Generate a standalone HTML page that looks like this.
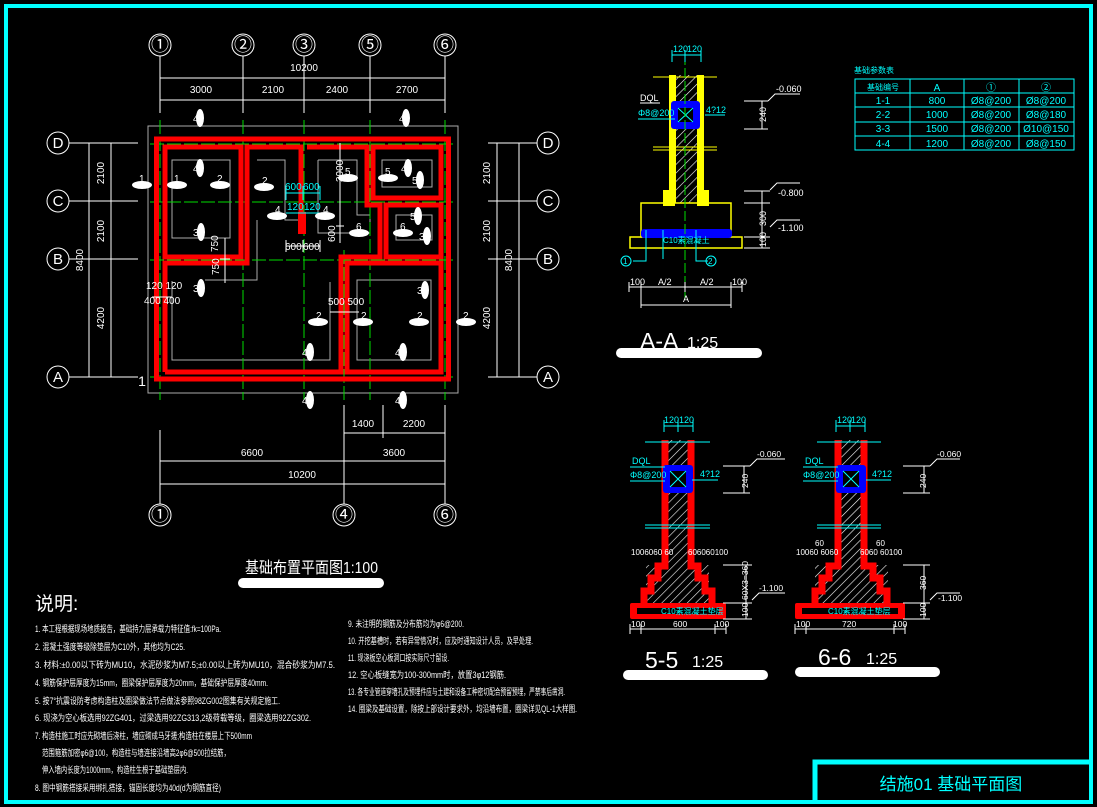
<!DOCTYPE html>
<html><head><meta charset="utf-8"><style>
html,body{margin:0;padding:0;background:#000;}
svg{display:block;font-family:"Liberation Sans","Noto Sans CJK SC",sans-serif;}
</style></head><body>
<svg width="1097" height="807" viewBox="0 0 1097 807" xmlns="http://www.w3.org/2000/svg">
<defs>
<pattern id="h" width="6" height="6" patternUnits="userSpaceOnUse" patternTransform="rotate(45)">
<rect width="6" height="6" fill="#000"/><line x1="0" y1="0" x2="0" y2="6" stroke="#fff" stroke-width="1.2"/>
</pattern>
<g id="mk"><ellipse cx="0" cy="0" rx="10" ry="4" fill="#fff"/></g>
<g id="mv"><ellipse cx="0" cy="0" rx="4" ry="9" fill="#fff"/></g>
</defs>
<rect width="1097" height="807" fill="#000"/>
<rect x="6" y="6" width="1085" height="796" fill="none" stroke="#00ffff" stroke-width="4"/>

<!-- ===== PLAN ===== -->
<g stroke="#fff" stroke-width="1" fill="none">
<circle cx="160" cy="45" r="11"/><circle cx="243" cy="45" r="11"/><circle cx="304" cy="45" r="11"/><circle cx="370" cy="45" r="11"/><circle cx="445" cy="45" r="11"/>
<path d="M160 56V113M243 56V113M304 56V113M370 56V113M445 56V113"/>
<path d="M160 78H445M160 100H445"/>
<circle cx="160" cy="515" r="11"/><circle cx="344" cy="515" r="11"/><circle cx="445" cy="515" r="11"/>
<path d="M160 430V504M344 405V504M445 405V504M383 405V438"/>
<path d="M344 433H445M160 461H445M160 484H445"/>
<circle cx="58" cy="143" r="11"/><circle cx="58" cy="201" r="11"/><circle cx="58" cy="259" r="11"/><circle cx="58" cy="377" r="11"/>
<path d="M69 143H138M69 201H138M69 259H138M69 377H138M89 143V377M111 143V377"/>
<circle cx="548" cy="143" r="11"/><circle cx="548" cy="201" r="11"/><circle cx="548" cy="259" r="11"/><circle cx="548" cy="377" r="11"/>
<path d="M488 143H537M488 201H537M488 259H537M488 377H537M497 143V377M519 143V377"/>
<rect x="148" y="126" width="310" height="267" stroke="#aaa"/>
<g stroke="#aaa">
<rect x="172" y="160" width="58" height="78"/>
<path d="M257 160H285V220H300"/><path d="M318 160H357V215H370V233H318V160"/>
<rect x="382" y="160" width="50" height="27"/><rect x="396" y="215" width="36" height="25"/>
<rect x="357" y="280" width="74" height="80"/>
<path d="M172 281V360H330V282"/><path d="M205 280H257V220"/>
</g>
</g>
<g stroke="#00dd00" stroke-width="1" stroke-dasharray="14,3">
<path d="M160 120V400M243 120V400M304 120V400M370 120V400M445 120V400M344 250V400"/>
<path d="M150 144H456M150 202H456M150 260H456M150 377H456"/>
</g>
<g stroke="#ff0000" stroke-width="5" fill="none" stroke-linejoin="miter">
<rect x="156.5" y="139" width="292" height="240"/>
<rect x="165" y="147" width="76" height="110"/>
<path d="M165 372V263H247V147H301V226"/>
<path d="M307 147H367V205H380V257H341V372H165"/>
<rect x="347" y="263" width="94" height="109"/>
<rect x="373" y="147" width="68" height="51"/>
<rect x="386" y="205" width="55" height="52"/>
</g>
<rect x="298" y="212" width="8" height="22" fill="#ff0000"/>
<g stroke="#00ffff" stroke-width="1" fill="none"><path d="M286 193H320M286 213H320M286 186V200M303 186V200M320 186V200"/></g>
<g fill="#00ffff" font-size="10"><text x="285" y="190">600</text><text x="303" y="190">600</text><text x="287" y="210">120</text><text x="304" y="210">120</text></g>
<g stroke="#fff" stroke-width="1" fill="none"><path d="M340 143V243M336 226H344M286 246H320M286 240V252M303 240V252M320 240V252M225 238V283M220 259H230M152 297H172M330 312H359"/></g>
<g fill="#fff" font-size="10">
<text x="285" y="250">600</text><text x="303" y="250">600</text>
<text x="328" y="183" transform="rotate(-90 335 175)">3000</text>
<text x="323" y="240" transform="rotate(-90 330 235)">600</text>
<text x="208" y="248" transform="rotate(-90 215 245)">750</text>
<text x="208" y="272" transform="rotate(-90 215 268)">750</text>
<text x="146" y="289">120 120</text><text x="144" y="304">400 400</text>
<text x="328" y="305">500 500</text>
</g>
<g fill="#fff" font-size="10">
<use href="#mk" x="142" y="185"/><text x="139" y="182">1</text>
<use href="#mk" x="177" y="185"/><text x="174" y="182">1</text>
<use href="#mk" x="220" y="185"/><text x="217" y="182">2</text>
<use href="#mk" x="264" y="187"/><text x="262" y="184">2</text>
<use href="#mk" x="277" y="216"/><text x="275" y="213">4</text>
<use href="#mk" x="325" y="216"/><text x="323" y="213">4</text>
<use href="#mk" x="348" y="178"/><text x="345" y="175">5</text>
<use href="#mk" x="388" y="178"/><text x="385" y="175">5</text>
<use href="#mk" x="359" y="233"/><text x="356" y="230">6</text>
<use href="#mk" x="403" y="233"/><text x="400" y="230">6</text>
<use href="#mk" x="318" y="322"/><text x="316" y="319">2</text>
<use href="#mk" x="363" y="322"/><text x="361" y="319">2</text>
<use href="#mk" x="419" y="322"/><text x="417" y="319">2</text>
<use href="#mk" x="466" y="322"/><text x="463" y="319">2</text>
<use href="#mv" x="200" y="118"/><text x="193" y="122">4</text>
<use href="#mv" x="406" y="118"/><text x="399" y="122">4</text>
<use href="#mv" x="200" y="168"/><text x="193" y="172">4</text>
<use href="#mv" x="408" y="168"/><text x="401" y="172">4</text>
<use href="#mv" x="420" y="180"/><text x="412" y="184">5</text>
<use href="#mv" x="418" y="216"/><text x="410" y="220">5</text>
<use href="#mv" x="427" y="236"/><text x="419" y="240">3</text>
<use href="#mv" x="201" y="232"/><text x="193" y="236">3</text>
<use href="#mv" x="201" y="288"/><text x="193" y="292">3</text>
<use href="#mv" x="425" y="290"/><text x="417" y="294">3</text>
<use href="#mv" x="310" y="352"/><text x="302" y="356">4</text>
<use href="#mv" x="403" y="352"/><text x="395" y="356">4</text>
<use href="#mv" x="310" y="400"/><text x="302" y="404">4</text>
<use href="#mv" x="403" y="400"/><text x="395" y="404">4</text>
</g>
<g fill="#fff" text-anchor="middle">
<g font-size="18"><text x="160" y="51">①</text><text x="243" y="51">②</text><text x="304" y="51">③</text><text x="370" y="51">⑤</text><text x="445" y="51">⑥</text>
<text x="160" y="521">①</text><text x="344" y="521">④</text><text x="445" y="521">⑥</text></g>
<g font-size="15"><text x="58" y="148">D</text><text x="58" y="206">C</text><text x="58" y="264">B</text><text x="58" y="382">A</text>
<text x="548" y="148">D</text><text x="548" y="206">C</text><text x="548" y="264">B</text><text x="548" y="382">A</text></g>
<g font-size="10"><text x="304" y="71">10200</text><text x="201" y="93">3000</text><text x="273" y="93">2100</text><text x="337" y="93">2400</text><text x="407" y="93">2700</text>
<text x="363" y="427">1400</text><text x="414" y="427">2200</text><text x="252" y="456">6600</text><text x="394" y="456">3600</text><text x="302" y="478">10200</text>
<text transform="translate(104 173) rotate(-90)">2100</text><text transform="translate(104 231) rotate(-90)">2100</text><text transform="translate(104 318) rotate(-90)">4200</text><text transform="translate(83 260) rotate(-90)">8400</text>
<text transform="translate(490 173) rotate(-90)">2100</text><text transform="translate(490 231) rotate(-90)">2100</text><text transform="translate(490 318) rotate(-90)">4200</text><text transform="translate(512 260) rotate(-90)">8400</text></g>
<text x="142" y="386" font-size="14">1</text>
</g>
<text x="245" y="573" fill="#fff" font-size="16" textLength="133" lengthAdjust="spacingAndGlyphs">基础布置平面图1:100</text>
<rect x="238" y="578" width="146" height="10" rx="5" fill="#fff"/>

<!-- notes -->
<g fill="#fff" font-size="9" lengthAdjust="spacingAndGlyphs">
<text x="35" y="610" font-size="19">说明:</text>
<text x="35" y="632" textLength="186" lengthAdjust="spacingAndGlyphs">1. 本工程根据现场地质报告，基础持力层承载力特征值:fk=100Pa.</text>
<text x="35" y="650" textLength="150" lengthAdjust="spacingAndGlyphs">2. 混凝土强度等级除垫层为C10外，其他均为C25.</text>
<text x="35" y="668" textLength="300" lengthAdjust="spacingAndGlyphs">3. 材料:±0.00以下砖为MU10，水泥砂浆为M7.5;±0.00以上砖为MU10，混合砂浆为M7.5.</text>
<text x="35" y="686" textLength="233" lengthAdjust="spacingAndGlyphs">4. 钢筋保护层厚度为15mm，圈梁保护层厚度为20mm，基础保护层厚度40mm.</text>
<text x="35" y="704" textLength="245" lengthAdjust="spacingAndGlyphs">5. 按7°抗震设防考虑构造柱及圈梁做法节点做法参照98ZG002图集有关规定施工.</text>
<text x="35" y="721" textLength="276" lengthAdjust="spacingAndGlyphs">6. 现浇为空心板选用92ZG401，过梁选用92ZG313,2级荷载等级，圈梁选用92ZG302.</text>
<text x="35" y="739" textLength="217" lengthAdjust="spacingAndGlyphs">7. 构造柱施工时应先砌墙后浇柱，墙应砌成马牙搓;构造柱在楼层上下500mm</text>
<text x="42" y="756" textLength="188" lengthAdjust="spacingAndGlyphs">范围箍筋加密φ6@100，构造柱与墙连接沿墙高2φ6@500拉结筋，</text>
<text x="42" y="773" textLength="146" lengthAdjust="spacingAndGlyphs">伸入墙内长度为1000mm，构造柱生根于基础垫层内.</text>
<text x="35" y="791" textLength="186" lengthAdjust="spacingAndGlyphs">8. 图中钢筋搭接采用绑扎搭接，锚固长度均为40d(d为钢筋直径)</text>
<text x="348" y="627" textLength="116" lengthAdjust="spacingAndGlyphs">9. 未注明的钢筋及分布筋均为φ6@200.</text>
<text x="348" y="644" textLength="185" lengthAdjust="spacingAndGlyphs">10. 开挖基槽时，若有异常情况时，应及时通知设计人员，及早处理.</text>
<text x="348" y="661" textLength="101" lengthAdjust="spacingAndGlyphs">11. 现浇板空心板洞口按实际尺寸留设.</text>
<text x="348" y="678" textLength="158" lengthAdjust="spacingAndGlyphs">12. 空心板缝宽为100-300mm时，放置3φ12钢筋.</text>
<text x="348" y="695" textLength="217" lengthAdjust="spacingAndGlyphs">13. 各专业管道穿墙孔及预埋件应与土建和设备工种密切配合预留预埋，严禁事后凿洞.</text>
<text x="348" y="712" textLength="229" lengthAdjust="spacingAndGlyphs">14. 圈梁及基础设置，除按上部设计要求外，均沿墙布置，圈梁详见QL-1大样图.</text>
</g>

<!-- ===== A-A section ===== -->
<g>
<rect x="676" y="75" width="21" height="128" fill="url(#h)"/>
<rect x="669" y="75" width="7" height="128" fill="#ffff00"/><rect x="697" y="75" width="7" height="128" fill="#ffff00"/>
<rect x="663" y="190" width="12" height="16" fill="#ffff00"/><rect x="697" y="190" width="12" height="16" fill="#ffff00"/>
<rect x="641" y="203" width="90" height="34" fill="none" stroke="#ffff00" stroke-width="1.5"/>
<rect x="630" y="237" width="112" height="11" fill="none" stroke="#ffff00" stroke-width="1.5"/>
<rect x="641" y="229" width="91" height="9" rx="3" fill="#0000ff"/>
<rect x="671" y="101" width="29" height="28" rx="3" fill="#0000ff"/>
<rect x="678" y="108" width="15" height="14" fill="#000"/>
<path d="M678 108L693 122M693 108L678 122" stroke="#00ffff"/>
<path d="M653 77H717M653 147H717M653 150H717" stroke="#ffff00"/>
<path d="M685 55V300" stroke="#00dd00" stroke-dasharray="10,3"/>
<g stroke="#00ffff" fill="none"><path d="M672 55H701M672 50V62M685 50V62M701 50V62M638 119H675M705 115H725M646 230V261H633M663 230V259M696 230V261H708"/></g>
<g fill="#00ffff" font-size="9"><text x="673" y="52">120</text><text x="687" y="52">120</text><text x="638" y="116">Φ8@200</text><text x="706" y="113">4?12</text>
<text x="663" y="243" font-size="8">C10素混凝土</text><circle cx="626" cy="261" r="5" fill="none" stroke="#00ffff"/><text x="623" y="264" font-size="8">1</text><circle cx="711" cy="261" r="5" fill="none" stroke="#00ffff"/><text x="708" y="264" font-size="8">2</text></g>
<g stroke="#fff" fill="none"><path d="M640 103H660M744 101H768M744 129H768M762 101V129M768 101L775 94H800M744 191H770M744 203H770M744 237H770M744 248H770M762 191V248M770 190L777 183H800M770 227L777 220H800M629 287H742M641 305H731M629 282V292M641 282V308M685 282V292M731 282V308M742 282V292"/></g>
<g fill="#fff" font-size="9"><text x="640" y="101">DQL</text><text x="776" y="92">-0.060</text><text x="778" y="196">-0.800</text><text x="778" y="231">-1.100</text>
<text transform="translate(766 122) rotate(-90)">240</text><text transform="translate(766 226) rotate(-90)">300</text><text transform="translate(766 247) rotate(-90)">100</text>
<text x="630" y="285">100</text><text x="658" y="285">A/2</text><text x="700" y="285">A/2</text><text x="732" y="285">100</text><text x="683" y="302">A</text>
<text x="640" y="349" font-size="23">A-A</text><text x="687" y="348" font-size="16">1:25</text></g>
<rect x="616" y="348" width="146" height="10" rx="5" fill="#fff"/>
</g>

<!-- ===== 5-5 ===== -->
<g>
<path d="M668 440H688V565H709V603H646V565H668Z" fill="url(#h)"/>
<path d="M665 440V566H658V578H651V591H644V604M691 440V566H698V578H705V591H712V604" stroke="#ff0000" stroke-width="7" fill="none"/>
<rect x="630" y="603" width="96" height="16" rx="2" fill="#ff0000"/>
<rect x="637" y="608" width="82" height="6" fill="#000"/>
<rect x="663" y="465" width="30" height="28" rx="3" fill="#0000ff"/>
<rect x="670" y="471" width="16" height="16" fill="#000"/>
<path d="M670 471L686 487M686 471L670 487" stroke="#00ffff"/>
<g stroke="#00ffff" fill="none"><path d="M645 442H710M645 525H710M645 528H710M664 426H693M664 420V432M678 420V432M693 420V432M630 467H665M630 481H665M692 480H718"/></g>
<g fill="#00ffff" font-size="9"><text x="664" y="423">120</text><text x="679" y="423">120</text><text x="632" y="464">DQL</text><text x="630" y="478">Φ8@200</text><text x="700" y="477">4?12</text><text x="661" y="614" font-size="8">C10素混凝土垫层</text></g>
<g stroke="#fff" fill="none"><path d="M723 466H750M723 493H750M744 466V493M750 466L757 459H785M723 565H752M723 603H752M723 619H752M746 565V619M752 600L759 593H785M630 629H726M630 624V634M641 624V634M715 624V634M726 624V634"/></g>
<g fill="#fff" font-size="8.5"><text x="757" y="457">-0.060</text><text x="759" y="591">-1.100</text><text transform="translate(748 488) rotate(-90)">240</text><text transform="translate(748 600) rotate(-90)">60X3=360</text><text transform="translate(748 617) rotate(-90)">100</text>
<text x="631" y="555" font-size="8">1006060 60</text><text x="688" y="555" font-size="8">606060100</text>
<text x="631" y="627">100</text><text x="673" y="627">600</text><text x="715" y="627">100</text></g>
</g>
<text x="645" y="668" fill="#fff" font-size="23">5-5</text><text x="692" y="667" fill="#fff" font-size="16">1:25</text>
<rect x="623" y="670" width="145" height="10" rx="5" fill="#fff"/>

<!-- ===== 6-6 ===== -->
<g>
<path d="M841 440H861V565H888V603H815V565H841Z" fill="url(#h)"/>
<path d="M838 440V566H829V578H822V591H815V604M864 440V566H873V578H880V591H887V604" stroke="#ff0000" stroke-width="7" fill="none"/>
<rect x="795" y="603" width="110" height="16" rx="2" fill="#ff0000"/>
<rect x="802" y="608" width="96" height="6" fill="#000"/>
<rect x="836" y="465" width="30" height="28" rx="3" fill="#0000ff"/>
<rect x="843" y="471" width="16" height="16" fill="#000"/>
<path d="M843 471L859 487M859 471L843 487" stroke="#00ffff"/>
<g stroke="#00ffff" fill="none"><path d="M817 442H881M817 525H881M817 528H881M836 426H865M836 420V432M850 420V432M865 420V432M803 467H838M803 481H838M866 480H891"/></g>
<g fill="#00ffff" font-size="9"><text x="837" y="423">120</text><text x="851" y="423">120</text><text x="805" y="464">DQL</text><text x="803" y="478">Φ8@200</text><text x="872" y="477">4?12</text><text x="828" y="614" font-size="8">C10素混凝土垫层</text></g>
<g stroke="#fff" fill="none"><path d="M903 466H930M903 493H930M924 466V493M930 466L937 459H960M903 565H930M903 603H930M903 619H930M924 565V619M930 600L937 593H960M795 629H905M795 624V634M806 624V634M894 624V634M905 624V634"/></g>
<g fill="#fff" font-size="8.5"><text x="937" y="457">-0.060</text><text x="938" y="601">-1.100</text><text transform="translate(926 488) rotate(-90)">240</text><text transform="translate(926 590) rotate(-90)">360</text><text transform="translate(926 617) rotate(-90)">100</text>
<text x="796" y="555" font-size="8">10060 6060</text><text x="860" y="555" font-size="8">6060 60100</text><text x="815" y="546" font-size="8">60</text><text x="876" y="546" font-size="8">60</text>
<text x="796" y="627">100</text><text x="842" y="627">720</text><text x="893" y="627">100</text></g>
</g>
<text x="818" y="665" fill="#fff" font-size="23">6-6</text><text x="866" y="664" fill="#fff" font-size="16">1:25</text>
<rect x="795" y="667" width="145" height="10" rx="5" fill="#fff"/>

<!-- table -->
<g fill="none" stroke="#00ffff" stroke-width="1">
<rect x="855" y="79" width="219" height="71"/>
<path d="M855 93H1074M855 107H1074M855 122H1074M855 136H1074M910 79V150M964 79V150M1019 79V150"/>
</g>
<g fill="#00ffff" font-size="10" text-anchor="middle">
<text x="874" y="73" font-size="8">基础参数表</text>
<text x="883" y="90" font-size="8">基础编号</text><text x="937" y="91">A</text><text x="991" y="91">①</text><text x="1046" y="91">②</text>
<text x="883" y="104">1-1</text><text x="937" y="104">800</text><text x="991" y="104">Ø8@200</text><text x="1046" y="104">Ø8@200</text>
<text x="883" y="118">2-2</text><text x="937" y="118">1000</text><text x="991" y="118">Ø8@200</text><text x="1046" y="118">Ø8@180</text>
<text x="883" y="132">3-3</text><text x="937" y="132">1500</text><text x="991" y="132">Ø8@200</text><text x="1046" y="132">Ø10@150</text>
<text x="883" y="147">4-4</text><text x="937" y="147">1200</text><text x="991" y="147">Ø8@200</text><text x="1046" y="147">Ø8@150</text>
</g>

<!-- title block -->
<path d="M815 803V762H1091" fill="none" stroke="#00ffff" stroke-width="5"/>
<text x="951" y="790" fill="#00ffff" font-size="17" text-anchor="middle">结施01  基础平面图</text>
</svg>
</body></html>
